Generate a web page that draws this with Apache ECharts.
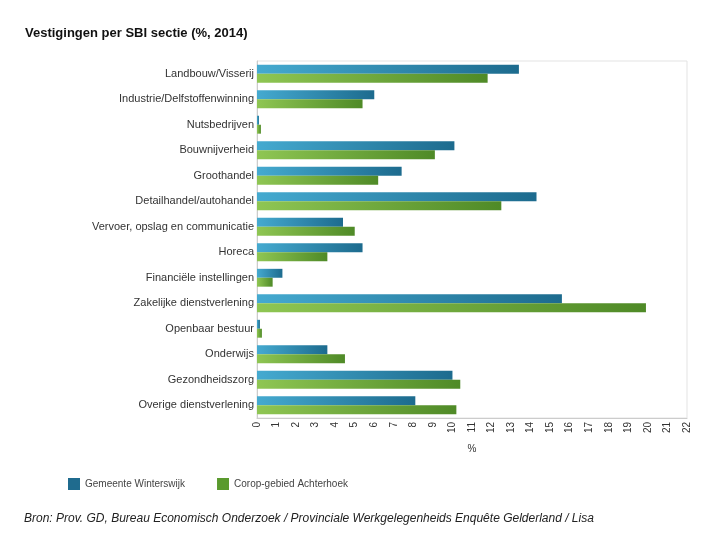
<!DOCTYPE html>
<html>
<head>
<meta charset="utf-8">
<script src="https://cdn.jsdelivr.net/npm/echarts@6/dist/echarts.min.js"></script>
<style>
  html, body { margin: 0; padding: 0; background: #fff; }
  #chart { width: 712px; height: 543px; }
</style>
</head>
<body>
<div id="chart"></div>
<script>
"use strict";
var categories = [
    "Landbouw/Visserij", "Industrie/Delfstoffenwinning", "Nutsbedrijven", "Bouwnijverheid",
    "Groothandel", "Detailhandel/autohandel", "Vervoer, opslag en communicatie", "Horeca",
    "Financiële instellingen", "Zakelijke dienstverlening", "Openbaar bestuur", "Onderwijs",
    "Gezondheidszorg", "Overige dienstverlening"
];
var winterswijk = [13.4, 6.0, 0.1, 10.1, 7.4, 14.3, 4.4, 5.4, 1.3, 15.6, 0.15, 3.6, 10.0, 8.1];
var achterhoek = [11.8, 5.4, 0.2, 9.1, 6.2, 12.5, 5.0, 3.6, 0.8, 19.9, 0.25, 4.5, 10.4, 10.2];
var seriesNames = ["Gemeente Winterswijk", "Corop-gebied Achterhoek"];

var chart = echarts.init(document.getElementById("chart"));

function barGradient(light, dark) {
    return new echarts.graphic.LinearGradient(0, 0, 1, 0, [
        {offset: 0, color: light},
        {offset: 1, color: dark}
    ]);
}

var option = {
    animation: false,
    textStyle: {fontFamily: "Liberation Sans, Arial, sans-serif"},
    title: {
        text: "Vestigingen per SBI sectie (%, 2014)",
        left: 20, top: 22,
        textStyle: {fontSize: 13, fontWeight: "bold", color: "#111"}
    },
    legend: {
        data: [
            {name: seriesNames[0], itemStyle: {color: "#1f6b8e"}},
            {name: seriesNames[1], itemStyle: {color: "#5a9a2e"}}
        ],
        left: 63, top: 473,
        itemWidth: 12, itemHeight: 12, itemGap: 32,
        icon: "rect",
        textStyle: {fontSize: 10, color: "#444"}
    },
    grid: {
        left: 257, right: 25, top: 61, bottom: 125,
        show: true, borderColor: "#e3e3e3", borderWidth: 1
    },
    xAxis: {
        type: "value", min: 0, max: 22, interval: 1,
        name: "%", nameLocation: "middle", nameGap: 26,
        nameTextStyle: {fontSize: 10, color: "#333"},
        axisLine: {show: true, lineStyle: {color: "#ccc"}},
        axisTick: {show: false},
        splitLine: {show: false},
        axisLabel: {rotate: 90, fontSize: 10, color: "#333", margin: 4}
    },
    yAxis: {
        type: "category", data: categories, inverse: true,
        axisLine: {show: true, lineStyle: {color: "#ccc"}},
        axisTick: {show: false},
        axisLabel: {fontSize: 11, color: "#333", margin: 3}
    },
    series: [{
        name: seriesNames[0], type: "bar", data: winterswijk,
        barGap: "0%", barCategoryGap: "30%",
        itemStyle: {color: barGradient("#45aad0", "#1d6b8e")}
    }, {
        name: seriesNames[1], type: "bar", data: achterhoek,
        itemStyle: {color: barGradient("#8fc653", "#4f8a27")}
    }],
    graphic: [{
        type: "text", left: 24, top: 513,
        style: {
            text: "Bron: Prov. GD, Bureau Economisch Onderzoek / Provinciale Werkgelegenheids Enquête Gelderland / Lisa",
            font: "italic 12px Liberation Sans, Arial, sans-serif", fill: "#222"
        }
    }]
};
chart.setOption(option);
</script>
</body>
</html>
